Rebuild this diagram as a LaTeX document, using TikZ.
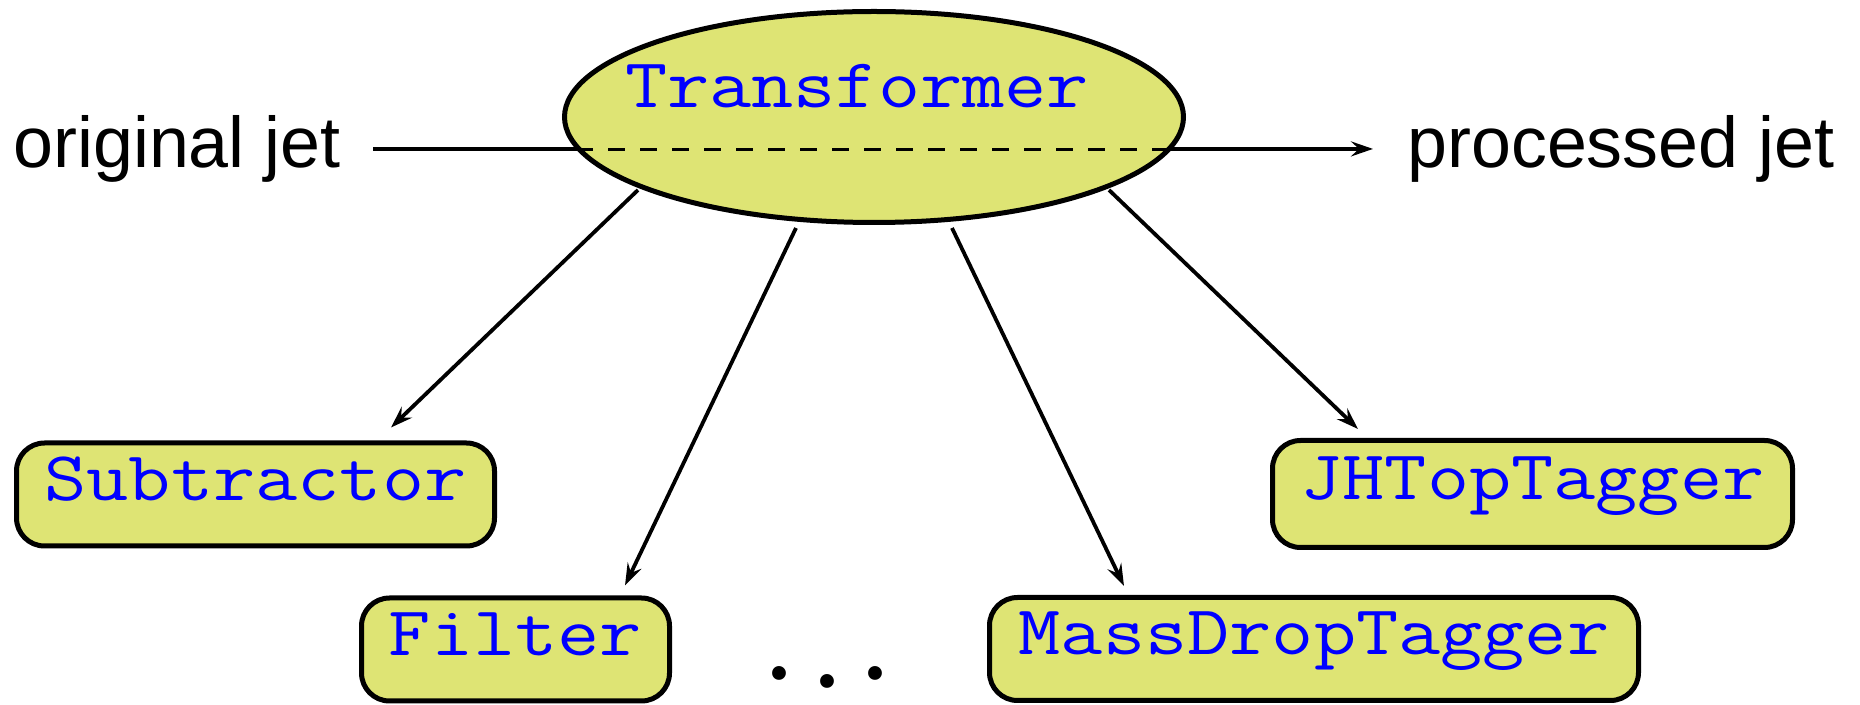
\documentclass[tikz,border=0pt]{standalone}
\usepackage{fontspec}
\setmainfont{Liberation Sans}
\newfontfamily\codefont[FakeStretch=1.17]{Latin Modern Mono}
\newfontfamily\dotfont{Lato}
\usetikzlibrary{shapes.geometric,arrows.meta,calc}
\definecolor{boxfill}{RGB}{222,228,116}
\definecolor{codeblue}{RGB}{0,0,255}
\tikzset{
  arr/.style={line width=1.9pt,-{Stealth[length=11pt,width=7.5pt,inset=4pt]}},
  dashline/.style={line width=1.9pt,dash pattern=on 8.5pt off 7.5pt},
  classbox/.style={rectangle,rounded corners=14pt,draw,line width=2.5pt,fill=boxfill,
    text=codeblue,font=\codefont\fontsize{35}{42}\selectfont,
    text height=0.6em,text depth=0pt,inner sep=0pt,minimum height=51.5pt},
  lbl/.style={font=\fontsize{35.9}{42}\selectfont,inner sep=0pt},
  codetext/.style={text=codeblue,font=\codefont\fontsize{35}{42}\selectfont,inner sep=0pt}
}
\begin{document}
\begin{tikzpicture}[x=0.5pt,y=-0.5pt]
\useasboundingbox (0,0) rectangle (1860,705);
% labels
\node[lbl,anchor=base west] (oj) at (13,167.5) {original jet};
\node[lbl,anchor=base west] (pj) at (1407,167.5) {processed jet};
% main line (under ellipse)
\draw[arr,shorten <=16pt,shorten >=17pt] (oj.east) -- (pj.west);
% Transformer ellipse
\node[ellipse,draw,line width=2.5pt,fill=boxfill,minimum width=309.5pt,minimum height=105.5pt,inner sep=0pt] (T) at (874,117) {};
\node[codetext,anchor=base] (Tt) at (857,108) {Transformer};
\draw[dashline] ($(T.center)+(-298,32.5)$) -- ($(T.center)+(298,32.5)$);
% boxes
\node[classbox,minimum width=239pt] (S) at (255.5,494.5) {Subtractor};
\node[classbox,minimum width=154pt] (F) at (515.5,649.5) {Filter};
\node[classbox,minimum width=324.5pt] (M) at (1314,649) {MassDropTagger};
\node[classbox,minimum width=260pt,minimum height=53.5pt] (J) at (1532.5,494) {JHTopTagger};
% dots
\node[font=\dotfont\fontsize{55}{60}\selectfont,inner sep=0pt,anchor=base] (D) at (827.5,680) {.\hspace{11pt}\raisebox{-4pt}{.}\hspace{11pt}.};
% arrows
\draw[arr] ($(T.center)+(-236,73)$) -- ($(S.north)+(135.5,-13)$);
\draw[arr] ($(T.center)+(-78,111)$) -- ($(F.north)+(109.5,-10)$);
\draw[arr] ($(T.center)+(78,111)$) -- ($(M.north)+(-190,-9)$);
\draw[arr] ($(T.center)+(235,73)$) -- ($(J.north)+(-174.5,-9)$);
\end{tikzpicture}
\end{document}
